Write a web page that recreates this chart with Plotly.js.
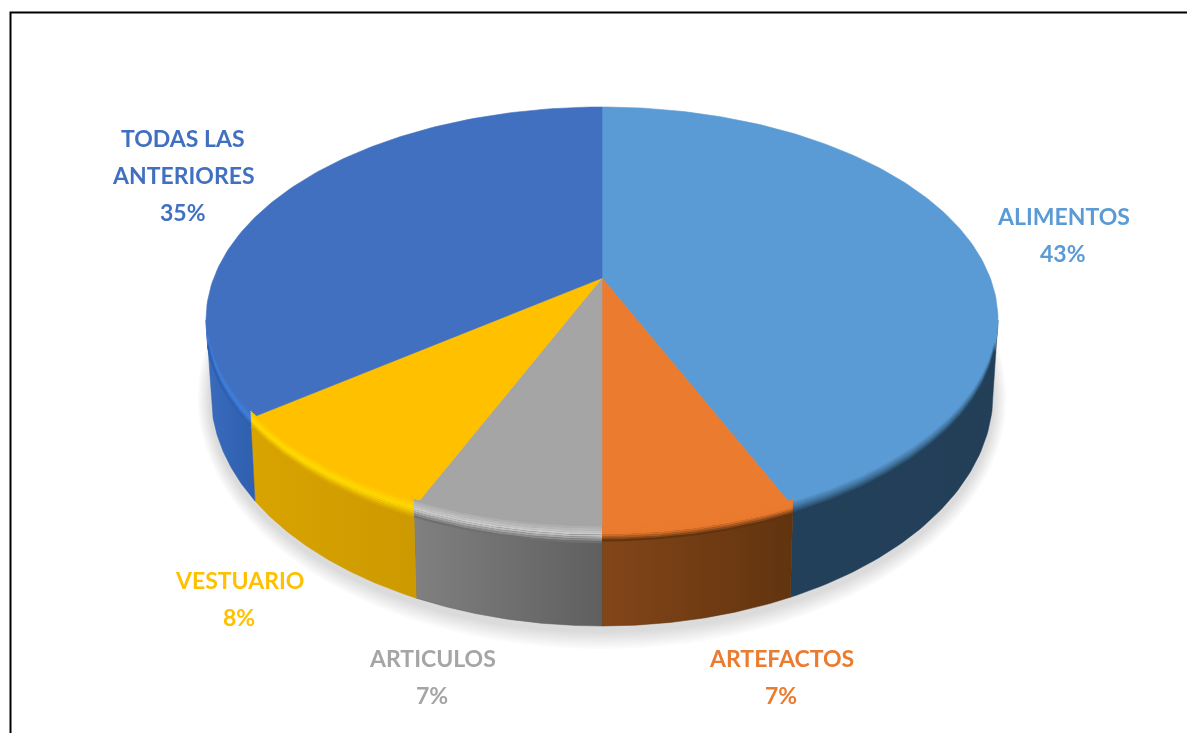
<!DOCTYPE html>
<html>
<head>
<meta charset="utf-8">
<script src="https://cdn.plot.ly/plotly-3.0.1.min.js"></script>
<style>html,body{margin:0;padding:0;background:#fff}#chart{width:1187px;height:733px;filter:blur(0.45px)}</style>
</head>
<body>
<div id="chart"></div>
<script>
// ---- data (labels show the rounded value) ----
const categories = ["ALIMENTOS", "ARTEFACTOS", "ARTICULOS", "VESTUARIO", "TODAS LAS ANTERIORES"];
const values = [43.4, 6.6, 6.5, 8.2, 35.3];
const faceColors = ["#5b9bd5", "#ea7b2f", "#a5a5a5", "#ffc000", "#4170c0"];
const sideLeft = ["#23405a", "#834519", "#808080", "#d9a400", "#3a6bbd"];
const sideRight = ["#233f58", "#61340f", "#5f5f5f", "#cc9900", "#2f5fae"];
const rimColors = ["#3f7099", "#e97a2e", "#cfcfcf", "#ffdc00", "#3f80e0"];
const rimEnds = ["#23405a", "#61340f", "#6f6f6f", "#d9a400", "#2f5fae"];
const labelLines = [["ALIMENTOS"], ["ARTEFACTOS"], ["ARTICULOS"], ["VESTUARIO"], ["TODAS LAS", "ANTERIORES"]];

// ---- layout of the pie in plot units ----
const top3d = {cx: 602, cy: 320, rx: 396, ry: 213};
const bot3d = {cx: 602, cy: 394, rx: 391, ry: 232};
const apexLift = 42, tilt = 0.197, persp = 388;
const labelAt = [[1063, 216], [781, 658], [432, 658], [239, 580], [183, 138]];
const labelStep = [37, 37, 37, 37, 37];

const D = Math.PI / 180;
function thetaToPhi(th) {            // angle round the disc -> angle round the drawn ellipse
  const u = Math.sin(th), v = Math.cos(th), w = 1 + tilt * v;
  const X = persp * u / w, Y = (top3d.ry * v + apexLift) / w;
  let p = Math.atan2(X / top3d.rx, Y / top3d.ry);
  if (p < 0 || (p === 0 && th > Math.PI)) p += 2 * Math.PI;
  if (th >= 2 * Math.PI - 1e-9) p = 2 * Math.PI;
  return p;
}
function ell(e, p) { return [e.cx + e.rx * Math.sin(p), e.cy - e.ry * Math.cos(p)]; }
function mix(a, b, t) {
  const h = s => [1, 3, 5].map(i => parseInt(s.substr(i, 2), 16));
  const A = h(a), B = h(b);
  return "rgb(" + A.map((x, i) => Math.round(x + (B[i] - x) * t)).join(",") + ")";
}
function range(a, b, n) { const r = []; for (let i = 0; i <= n; i++) r.push(a + (b - a) * i / n); return r; }

const traces = [];

// soft shadow under the disc
for (let k = 0; k < 9; k++) {
  const g = 19 - 2 * k, xs = [], ys = [];
  range(0, 2 * Math.PI, 180).forEach(p => {
    xs.push(bot3d.cx + (bot3d.rx + g * 0.7) * Math.sin(p));
    ys.push(bot3d.cy + 4 - (bot3d.ry + g) * Math.cos(p));
  });
  traces.push({type: "scatter", mode: "lines", x: xs, y: ys, fill: "toself",
    fillcolor: "rgba(70,70,70,0.022)", line: {width: 0}, hoverinfo: "skip"});
}

// slice angles from the values
const total = values.reduce((a, b) => a + b, 0);
let acc = 0;
const spans = values.map(v => {
  const a = acc / total * 2 * Math.PI; acc += v;
  return [a, acc / total * 2 * Math.PI];
});

// outer wall (only the front half of the disc shows)
spans.forEach((s, i) => {
  const p0 = Math.max(thetaToPhi(s[0]), 90 * D), p1 = Math.min(thetaToPhi(s[1]), 270 * D);
  if (p1 <= p0) return;
  const ps = range(p0, p1, 60), xs = [], ys = [];
  ps.forEach(p => { const q = ell(top3d, p); xs.push(q[0]); ys.push(q[1]); });
  ps.slice().reverse().forEach(p => { const q = ell(bot3d, p); xs.push(q[0]); ys.push(q[1]); });
  xs.push(xs[0]); ys.push(ys[0]);
  traces.push({type: "scatter", mode: "lines", x: xs, y: ys, fill: "toself",
    fillcolor: sideLeft[i], line: {width: 0.5, color: sideRight[i]},
    fillgradient: {type: "horizontal", colorscale: [[0, sideLeft[i]], [1, sideRight[i]]]},
    hoverinfo: "skip"});
});

// top face wedges
const apex = [top3d.cx, top3d.cy - apexLift];
spans.forEach((s, i) => {
  const xs = [apex[0]], ys = [apex[1]];
  range(s[0], s[1], Math.ceil((s[1] - s[0]) / D)).forEach(th => {
    const q = ell(top3d, thetaToPhi(th)); xs.push(q[0]); ys.push(q[1]);
  });
  xs.push(apex[0]); ys.push(apex[1]);
  traces.push({type: "scatter", mode: "lines", x: xs, y: ys, fill: "toself",
    fillcolor: faceColors[i], line: {width: 0.6, color: faceColors[i]}, hoverinfo: "skip"});
});

// bevel along the rim
const bands = [0.085, 0.09, 0.11, 0.11, 0.11], strands = 9;
spans.forEach((s, i) => {
  const p0 = Math.max(thetaToPhi(s[0]), 97 * D), p1 = Math.min(thetaToPhi(s[1]), 265 * D);
  if (p1 <= p0) return;
  const w = bands[i];
  for (let k = 0; k < strands; k++) {
    const f = k / (strands - 1), t = -w * 0.75 + f * w * 1.65;
    const col = f < 0.55 ? mix(faceColors[i], rimColors[i], f / 0.55) : mix(rimColors[i], rimEnds[i], (f - 0.55) / 0.45);
    const xs = [], ys = [];
    range(p0, p1, 60).forEach(p => {
      const a = ell(top3d, p), b = ell(bot3d, p);
      xs.push(a[0] + (b[0] - a[0]) * t); ys.push(a[1] + (b[1] - a[1]) * t);
    });
    traces.push({type: "scatter", mode: "lines", x: xs, y: ys,
      line: {width: 2, color: col}, hoverinfo: "skip"});
  }
});

// labels
const annotations = [];
categories.forEach((c, i) => {
  const lines = labelLines[i].concat([Math.round(values[i] / total * 100) + "%"]);
  lines.forEach((t, j) => annotations.push({
    xref: "x", yref: "y", x: labelAt[i][0], y: labelAt[i][1] + j * labelStep[i],
    text: "<b>" + t + "</b>", showarrow: false, xanchor: "center", yanchor: "middle",
    font: {family: "Lato, 'Open Sans', sans-serif", size: 23, color: faceColors[i]}
  }));
});

const layout = {
  width: 1187, height: 733, margin: {l: 0, r: 0, t: 0, b: 0},
  paper_bgcolor: "#ffffff", plot_bgcolor: "#ffffff", showlegend: false, hovermode: false,
  xaxis: {range: [0, 1187], visible: false, fixedrange: true},
  yaxis: {range: [733, 0], visible: false, fixedrange: true},
  shapes: [{type: "rect", xref: "x", yref: "y", x0: 10.5, y0: 12.5, x1: 1300, y1: 900,
    line: {color: "#000000", width: 2}, fillcolor: "rgba(0,0,0,0)"}],
  annotations
};
Plotly.newPlot("chart", traces, layout, {displayModeBar: false, staticPlot: true});
</script>
</body>
</html>
